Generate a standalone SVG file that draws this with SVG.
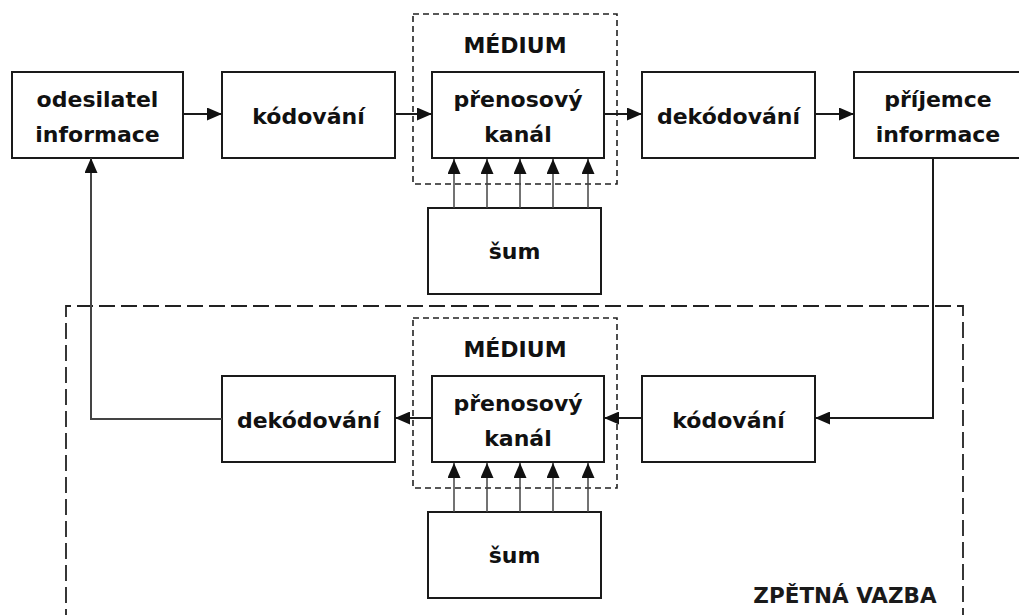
<svg xmlns="http://www.w3.org/2000/svg" width="1019" height="615" viewBox="0 0 1019 615">
<defs>
<style>
.box{fill:#fff;stroke:#1a1a1a;stroke-width:2}
.lbl{font-family:"DejaVu Sans",Verdana,sans-serif;font-weight:bold;font-size:22px;fill:#111;text-anchor:middle}
.cap{font-family:"DejaVu Sans",Verdana,sans-serif;font-weight:bold;font-size:22px;fill:#111;text-anchor:middle}
.cap2{font-family:"DejaVu Sans",Verdana,sans-serif;font-weight:bold;font-size:21.5px;fill:#1a1a1a;text-anchor:middle}
.med{fill:none;stroke:#222;stroke-width:1.6;stroke-dasharray:6 4}
.outer{fill:none;stroke:#222;stroke-width:1.8;stroke-dasharray:16 6}
.ln{fill:none;stroke:#1a1a1a;stroke-width:2}
.fb{fill:none;stroke:#444;stroke-width:2}
.nz{fill:none;stroke:#444;stroke-width:1.5}
</style>
<marker id="ah" markerWidth="15" markerHeight="13" refX="15" refY="6.5" orient="auto" markerUnits="userSpaceOnUse">
<path d="M0,0 L15,6.5 L0,13 Z" fill="#111"/>
</marker>
</defs>
<rect width="1019" height="615" fill="#fff"/>

<g id="feedback-frame">
<path class="outer" d="M66,625 V306 H963 V625"/>
<text class="cap2" x="845" y="603">ZPĚTNÁ VAZBA</text>
</g>

<g id="medium-top">
<rect class="med" x="413" y="14" width="204" height="170"/>
<text class="cap" x="515" y="53">MÉDIUM</text>
</g>
<g id="medium-bottom">
<rect class="med" x="413" y="318" width="204" height="170"/>
<text class="cap" x="515" y="357">MÉDIUM</text>
</g>

<g id="odesilatel">
<rect class="box" x="12" y="72" width="171" height="86"/>
<text class="lbl" x="97.5" y="107">odesilatel</text>
<text class="lbl" x="97.5" y="142">informace</text>
</g>
<g id="kodovani-top">
<rect class="box" x="222" y="72" width="173" height="86"/>
<text class="lbl" x="308.5" y="124">kódování</text>
</g>
<g id="kanal-top">
<rect class="box" x="432" y="72" width="172" height="86"/>
<text class="lbl" x="518" y="107">přenosový</text>
<text class="lbl" x="518" y="142">kanál</text>
</g>
<g id="dekodovani-top">
<rect class="box" x="642" y="72" width="173" height="86"/>
<text class="lbl" x="728.5" y="124">dekódování</text>
</g>
<g id="prijemce">
<rect class="box" x="854" y="72" width="172" height="86"/>
<text class="lbl" x="938" y="107">příjemce</text>
<text class="lbl" x="938" y="142">informace</text>
</g>
<g id="sum-top">
<rect class="box" x="428" y="208" width="173" height="86"/>
<text class="lbl" x="514.5" y="259">šum</text>
</g>

<g id="dekodovani-bottom">
<rect class="box" x="222" y="376" width="173" height="86"/>
<text class="lbl" x="308.5" y="428">dekódování</text>
</g>
<g id="kanal-bottom">
<rect class="box" x="432" y="376" width="172" height="86"/>
<text class="lbl" x="518" y="411">přenosový</text>
<text class="lbl" x="518" y="446">kanál</text>
</g>
<g id="kodovani-bottom">
<rect class="box" x="642" y="376" width="173" height="86"/>
<text class="lbl" x="728.5" y="428">kódování</text>
</g>
<g id="sum-bottom">
<rect class="box" x="428" y="512" width="173" height="86"/>
<text class="lbl" x="514.5" y="563">šum</text>
</g>

<g id="connectors">
<line class="ln" x1="183" y1="114" x2="222" y2="114" marker-end="url(#ah)"/>
<line class="ln" x1="395" y1="114" x2="432" y2="114" marker-end="url(#ah)"/>
<line class="ln" x1="604" y1="114" x2="642" y2="114" marker-end="url(#ah)"/>
<line class="ln" x1="815" y1="114" x2="854" y2="114" marker-end="url(#ah)"/>
<line class="nz" x1="454" y1="208" x2="454" y2="159" marker-end="url(#ah)"/>
<line class="nz" x1="487" y1="208" x2="487" y2="159" marker-end="url(#ah)"/>
<line class="nz" x1="520" y1="208" x2="520" y2="159" marker-end="url(#ah)"/>
<line class="nz" x1="553" y1="208" x2="553" y2="159" marker-end="url(#ah)"/>
<line class="nz" x1="588" y1="208" x2="588" y2="159" marker-end="url(#ah)"/>
<path class="ln" d="M933,158 V418 H815" marker-end="url(#ah)"/>
<line class="ln" x1="642" y1="418" x2="604" y2="418" marker-end="url(#ah)"/>
<line class="ln" x1="432" y1="418" x2="395" y2="418" marker-end="url(#ah)"/>
<line class="nz" x1="454" y1="512" x2="454" y2="463" marker-end="url(#ah)"/>
<line class="nz" x1="487" y1="512" x2="487" y2="463" marker-end="url(#ah)"/>
<line class="nz" x1="520" y1="512" x2="520" y2="463" marker-end="url(#ah)"/>
<line class="nz" x1="553" y1="512" x2="553" y2="463" marker-end="url(#ah)"/>
<line class="nz" x1="588" y1="512" x2="588" y2="463" marker-end="url(#ah)"/>
<path class="fb" d="M222,419 H91 V158" marker-end="url(#ah)"/>
</g>
</svg>
